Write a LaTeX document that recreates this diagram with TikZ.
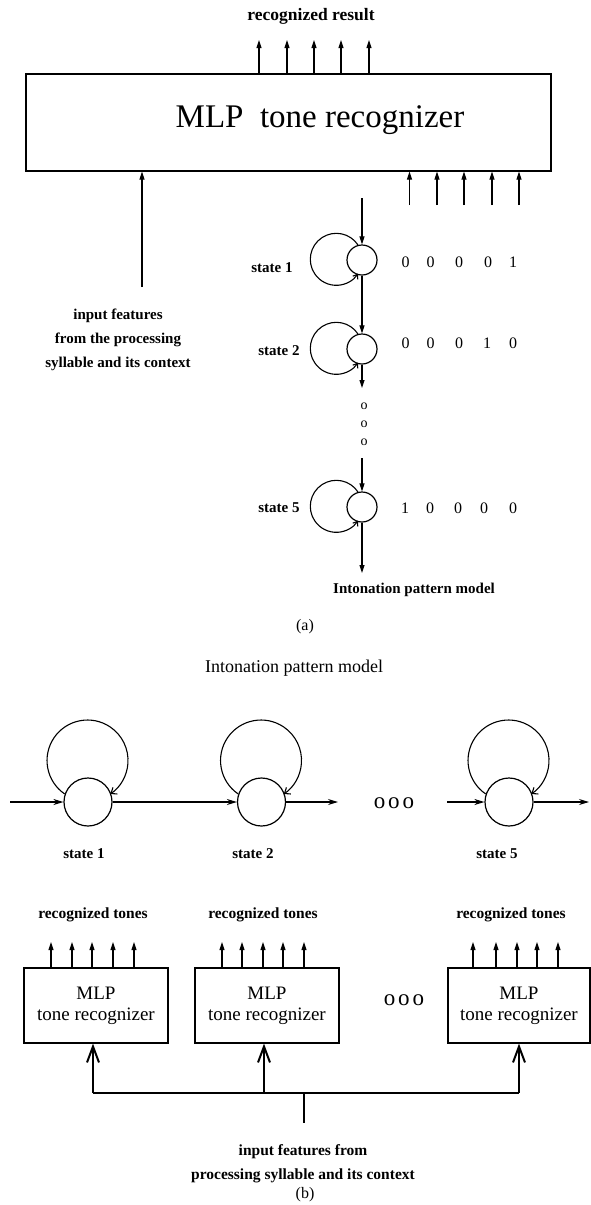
\documentclass[tikz,border=0pt]{standalone}
\usepackage{fontspec}
\setmainfont{Liberation Serif}
\usetikzlibrary{arrows.meta}
\begin{document}
\begin{tikzpicture}[x=1pt,y=1pt,
  every node/.style={inner sep=0pt},
  lbl/.style={font=\fontsize{15}{17}\selectfont\bfseries},
  dig/.style={font=\fontsize{16}{18}\selectfont},
  dots/.style={font=\fontsize{23}{25}\selectfont},
  ln/.style={line width=1.1pt},
  arr/.style={ln,-{Triangle[length=8pt,width=5pt]}},
  harr/.style={ln,-{Stealth[length=10pt,width=6pt]}},
  loopa/.style={ln,-{Straight Barb[length=4pt,width=6pt]}},
  loopb/.style={ln,-{Straight Barb[length=5pt,width=8pt]}},
  stA/.style={circle,draw,line width=1.2pt,minimum size=30pt},
  stB/.style={circle,draw,line width=1.2pt,minimum size=48pt},
  mbox/.style={draw,line width=1.2pt},
  bus/.style={line width=2pt},
  inarr/.style={line width=2pt,-{Straight Barb[length=16pt,width=12pt,line width=2pt]}}
]
\useasboundingbox (0,0) rectangle (590,-1205);

% ---------- (a) ----------
\node[lbl,font=\fontsize{17.5}{19}\selectfont\bfseries] (rres) at (311,-16) {recognized result};
\node[mbox,minimum width=525pt,minimum height=97pt] (mlp) at (288.5,-122.5) {};
\node[font=\fontsize{33}{36}\selectfont] (mlpt) at (320,-120) {MLP\hspace{.5em}tone recognizer};

\foreach \x [count=\k] in {259,287,314,341,369}{
  \coordinate (o\k) at (\x,-40);
  \draw[arr] (mlp.north -| o\k) -- (o\k);
}
\foreach \x [count=\k] in {409.5,437,464,492,519}{
  \coordinate (i\k) at (\x,-205);
  \draw[arr] (i\k) -- (mlp.south -| i\k);
}
\coordinate (lin) at (142,-287);
\draw[arr] (lin) -- (mlp.south -| lin);
\node[align=center,font=\fontsize{15}{24}\selectfont\bfseries] (ltxt) at (118,-340)
  {input features\\from the processing\\syllable and its context};

\node[stA] (s1) at (362,-260) {};
\node[stA] (s2) at (362,-349) {};
\node[stA] (s5) at (362,-507) {};
\coordinate (ch0) at (362,-198);
\coordinate (ch1) at (362,-388);
\coordinate (ch2) at (362,-458);
\coordinate (ch3) at (362,-573);
\draw[arr] (ch0) -- (s1.north);
\draw[arr] (s1.south) -- (s2.north);
\draw[arr] (s2.south) -- (ch1);
\node[align=center,font=\fontsize{14}{18}\selectfont] (vdots) at (364,-424) {o\\o\\o};
\draw[arr] (ch2) -- (s5.north);
\draw[arr] (s5.south) -- (ch3);

\draw[loopa] (s1.105.6) arc[start angle=33.6,end angle=326.4,radius=26];
\draw[loopa] (s2.105.6) arc[start angle=33.6,end angle=326.4,radius=26];
\draw[loopa] (s5.105.6) arc[start angle=33.6,end angle=326.4,radius=26];

\node[lbl] (la1) at (272,-268) {state 1};
\node[lbl] (la2) at (279,-351) {state 2};
\node[lbl] (la5) at (279,-508) {state 5};

\foreach \x/\d [count=\k] in {405.7/0,430.7/0,459/0,488/0,513/1}
  \node[dig] (ra\k) at (\x,-262) {\d};
\foreach \x/\d [count=\k] in {405.7/0,430.7/0,459/0,487/1,513/0}
  \node[dig] (rb\k) at (\x,-343) {\d};
\foreach \x/\d [count=\k] in {405/1,430/0,458/0,484/0,513/0}
  \node[dig] (rc\k) at (\x,-508) {\d};

\node[lbl] (ipa) at (414,-590) {Intonation pattern model};
\node[font=\fontsize{16}{18}\selectfont] (capa) at (305,-627) {(a)};

% ---------- (b) ----------
\node[font=\fontsize{18}{20}\selectfont] (ipb) at (294,-668) {Intonation pattern model};

\node[stB] (t1) at (88,-802) {};
\node[stB] (t2) at (261.5,-802) {};
\node[stB] (t5) at (509,-802) {};
\draw[loopb] (t1.161.7) arc[start angle=235.76,end angle=-55.76,radius=40.5];
\draw[loopb] (t2.161.7) arc[start angle=235.76,end angle=-55.76,radius=40.5];
\draw[loopb] (t5.161.7) arc[start angle=235.76,end angle=-55.76,radius=40.5];

\coordinate (bin) at (10,-802);
\coordinate (b2out) at (338,-802);
\coordinate (b5in) at (447,-802);
\coordinate (b5out) at (589,-802);
\draw[harr] (bin) -- (t1.west);
\draw[harr] (t1.east) -- (t2.west);
\draw[harr] (t2.east) -- (b2out);
\draw[harr] (b5in) -- (t5.west);
\draw[harr] (t5.east) -- (b5out);
\node[dots] (hdots) at (394,-803) {o\kern3pt o\kern3pt o};

\node[lbl] (lb1) at (84,-854) {state 1};
\node[lbl] (lb2) at (253,-854) {state 2};
\node[lbl] (lb5) at (497,-854) {state 5};

\node[lbl,font=\fontsize{15.5}{17}\selectfont\bfseries] (rt1) at (93,-915) {recognized tones};
\node[lbl,font=\fontsize{15.5}{17}\selectfont\bfseries] (rt2) at (263,-915) {recognized tones};
\node[lbl,font=\fontsize{15.5}{17}\selectfont\bfseries] (rt3) at (511,-915) {recognized tones};

\node[mbox,minimum width=144pt,minimum height=75pt,align=center,font=\fontsize{19}{21}\selectfont] (m1) at (96,-1005.5) {MLP\\tone recognizer};
\node[mbox,minimum width=144pt,minimum height=75pt,align=center,font=\fontsize{19}{21}\selectfont] (m2) at (267,-1005.5) {MLP\\tone recognizer};
\node[mbox,minimum width=142pt,minimum height=75pt,align=center,font=\fontsize{19}{21}\selectfont] (m3) at (519,-1005.5) {MLP\\tone recognizer};
\node[dots] (bdots) at (404,-1000) {o\kern3pt o\kern3pt o};

\foreach \x [count=\k] in {51,72,92,113,134}{
  \coordinate (p\k) at (\x,-942);
  \draw[arr] (m1.north -| p\k) -- (p\k);
}
\foreach \x [count=\k] in {222,242,263,283,304}{
  \coordinate (q\k) at (\x,-942);
  \draw[arr] (m2.north -| q\k) -- (q\k);
}
\foreach \x [count=\k] in {473,496,517,537,558}{
  \coordinate (u\k) at (\x,-942);
  \draw[arr] (m3.north -| u\k) -- (u\k);
}

\coordinate (bus1) at (93,-1093);
\coordinate (bus2) at (264,-1093);
\coordinate (bus3) at (519,-1093);
\coordinate (busm) at (304,-1093);
\coordinate (stem) at (304,-1123);
\draw[bus] (bus1) -- (bus3);
\draw[bus] (busm) -- (stem);
\draw[inarr] (bus1) -- (m1.south -| bus1);
\draw[inarr] (bus2) -- (m2.south -| bus2);
\draw[inarr] (bus3) -- (m3.south -| bus3);

\node[align=center,font=\fontsize{15.5}{24}\selectfont\bfseries] (btxt) at (303,-1164)
  {input features from\\processing syllable and its context};
\node[font=\fontsize{16}{18}\selectfont] (capb) at (305,-1195) {(b)};
\end{tikzpicture}
\end{document}
